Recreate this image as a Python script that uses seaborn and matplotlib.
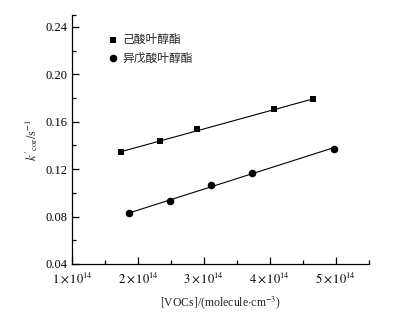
import numpy as np
import pandas as pd
import seaborn as sns
import matplotlib.pyplot as plt

# x in units of 1e14 molecule/cm3
x_hex = [1.74, 2.33, 2.90, 4.07, 4.65]
k_hex = [0.1344, 0.1434, 0.1535, 0.1704, 0.1788]
x_iso = [1.865, 2.48, 3.11, 3.73, 4.97]
k_iso = [0.0827, 0.0928, 0.1068, 0.1169, 0.1372]
names = ['己酸叶醇酯', '异戊酸叶醇酯']
xticks = [1, 2, 3, 4, 5]
xticklabels = [r'$1\times10^{14}$', r'$2\times10^{14}$', r'$3\times10^{14}$',
               r'$4\times10^{14}$', r'$5\times10^{14}$']
yticks = [0.04, 0.08, 0.12, 0.16, 0.20, 0.24]

sns.set_style('ticks')
plt.rcParams['font.family'] = ['Liberation Serif', 'Noto Sans CJK SC']
plt.rcParams['mathtext.fontset'] = 'stix'

fig = plt.figure(figsize=(3.95, 3.15), dpi=100)
ax = fig.add_axes([0.183, 0.162, 0.750, 0.790])

for xs, ks, name, mk, sz in [(x_hex, k_hex, names[0], 's', 24),
                              (x_iso, k_iso, names[1], 'o', 30)]:
    df = pd.DataFrame({'x': xs, 'k': ks})
    sl, ic = np.polyfit(df['x'], df['k'], 1)
    fit = pd.DataFrame({'x': [min(xs), max(xs)]})
    fit['k'] = sl * fit['x'] + ic
    sns.lineplot(data=fit, x='x', y='k', color='black', lw=0.8, ax=ax)
    sns.scatterplot(data=df, x='x', y='k', marker=mk, s=sz, color='black',
                    edgecolor='black', linewidth=0, label=name, ax=ax, zorder=3)

ax.set_xlim(1, 5.5)
ax.set_ylim(0.04, 0.25)
ax.set_xticks(xticks)
ax.set_xticklabels(xticklabels)
ax.set_xticks([1.5, 2.5, 3.5, 4.5, 5.5], minor=True)
ax.set_yticks(yticks)
ax.set_yticklabels(['%.2f' % v for v in yticks])
ax.set_yticks([0.06, 0.10, 0.14, 0.18, 0.22, 0.25], minor=True)
ax.tick_params(which='both', direction='in', labelsize=9, width=0.9, colors='black')
ax.tick_params(which='major', length=5)
ax.tick_params(which='minor', length=3)
ax.tick_params(axis='x', pad=5)
for s in ['left', 'bottom']:
    ax.spines[s].set_linewidth(0.9)
    ax.spines[s].set_color('black')
sns.despine(ax=ax)

ax.set_xlabel(r'[VOCs]/(molecule$\cdot$cm$^{-3}$)', fontsize=8.5, labelpad=6)
ax.set_ylabel(r"$k'_{\rm cor}/{\rm s}^{-1}$", fontsize=9, labelpad=4)

leg = ax.legend(loc='upper left', bbox_to_anchor=(0.08, 0.97), frameon=False,
                handletextpad=0.3, labelspacing=0.45, handlelength=1.0,
                prop={'family': 'Noto Sans CJK SC', 'size': 8.5})

fig.savefig('out.png', dpi=100, facecolor='white')
